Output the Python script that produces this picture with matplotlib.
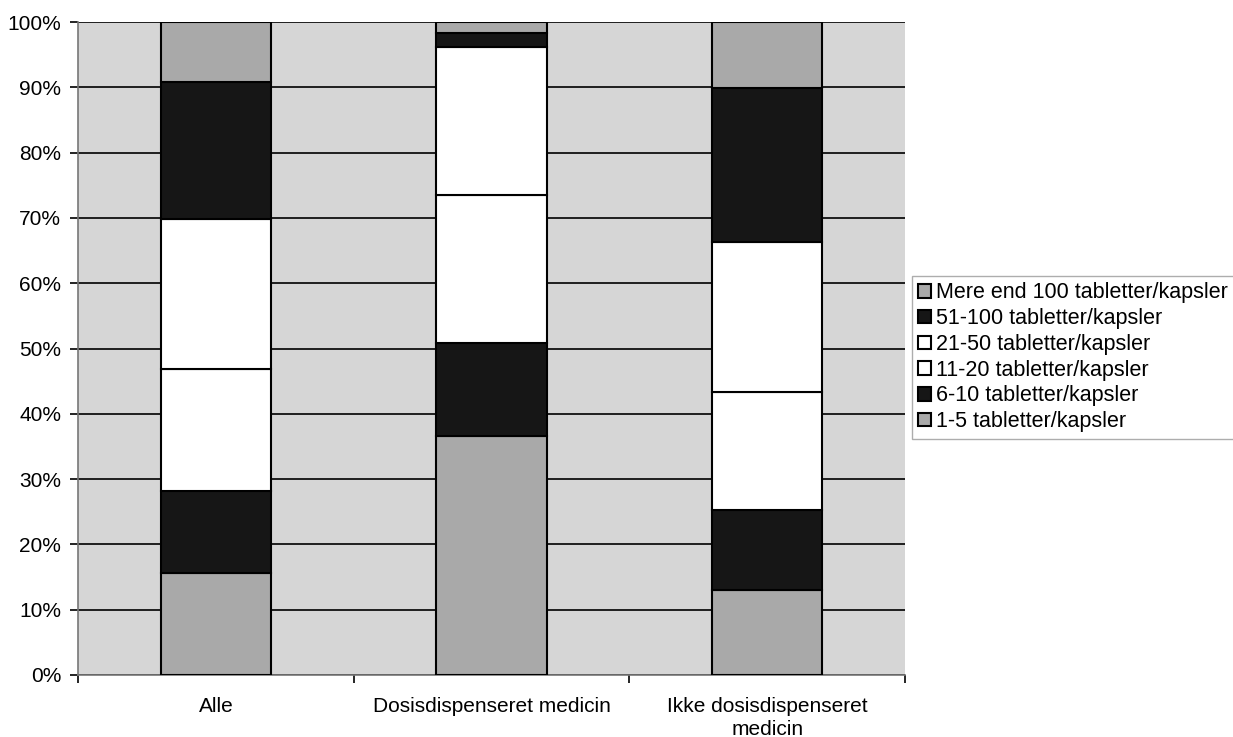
import numpy as np
import matplotlib.pyplot as plt
from matplotlib.ticker import PercentFormatter

plt.rcParams['font.family'] = ['Liberation Sans', 'DejaVu Sans']

categories = ['Alle', 'Dosisdispenseret medicin', 'Ikke dosisdispenseret\nmedicin']
series = ['1-5 tabletter/kapsler', '6-10 tabletter/kapsler', '11-20 tabletter/kapsler',
          '21-50 tabletter/kapsler', '51-100 tabletter/kapsler', 'Mere end 100 tabletter/kapsler']
values = [
    [15.6, 36.6, 13.0],
    [12.6, 14.3, 12.3],
    [18.6, 22.6, 18.1],
    [23.0, 22.7, 22.9],
    [21.0, 2.1, 23.6],
    [9.2, 1.7, 10.1],
]
colors = ['#a9a9a9', '#161616', '#ffffff', '#ffffff', '#161616', '#a9a9a9']

fig = plt.figure(figsize=(12.33, 7.37), dpi=100)
ax = fig.add_axes([78 / 1233, 62 / 737, 827 / 1233, 653 / 737])
ax.set_facecolor('#d6d6d6')

x = np.arange(len(categories))
bottom = np.zeros(len(categories))
handles = []
for name, vals, c in zip(series, values, colors):
    b = ax.bar(x, vals, width=0.4, bottom=bottom, color=c, edgecolor='black',
               linewidth=1.5, label=name, zorder=3)
    handles.append(b)
    bottom += np.array(vals)

ax.set_xlim(-0.5, 2.5)
ax.set_ylim(0, 100)
ax.set_yticks(np.arange(0, 101, 10))
ax.yaxis.set_major_formatter(PercentFormatter(decimals=0))
ax.grid(axis='y', color='black', linewidth=1.2, zorder=1)
ax.set_axisbelow(True)

ax.set_xticks(x)
ax.set_xticklabels(categories, fontsize=15, linespacing=1.25)
ax.set_xticks([-0.5, 0.5, 1.5, 2.5], minor=True)
ax.tick_params(axis='x', which='major', length=0, pad=16)
ax.tick_params(axis='x', which='minor', length=6, width=1.2)
ax.tick_params(axis='y', labelsize=15, length=6, width=1.2, pad=6)

for s in ['top', 'right']:
    ax.spines[s].set_visible(False)
ax.spines['left'].set_linewidth(1.2)
ax.spines['bottom'].set_linewidth(1.2)
ax.spines['left'].set_color('#777777')
ax.spines['bottom'].set_color('#777777')

leg = fig.legend(handles[::-1], series[::-1], loc='upper left',
                 bbox_to_anchor=(912 / 1233, 1 - 276 / 737), fontsize=15.5,
                 frameon=True, fancybox=False, edgecolor='#999999',
                 handlelength=0.6, handleheight=0.6, handletextpad=0.2,
                 labelspacing=0.22, borderpad=0.3, borderaxespad=0)

fig.savefig('out.png', dpi=100, facecolor='white')
